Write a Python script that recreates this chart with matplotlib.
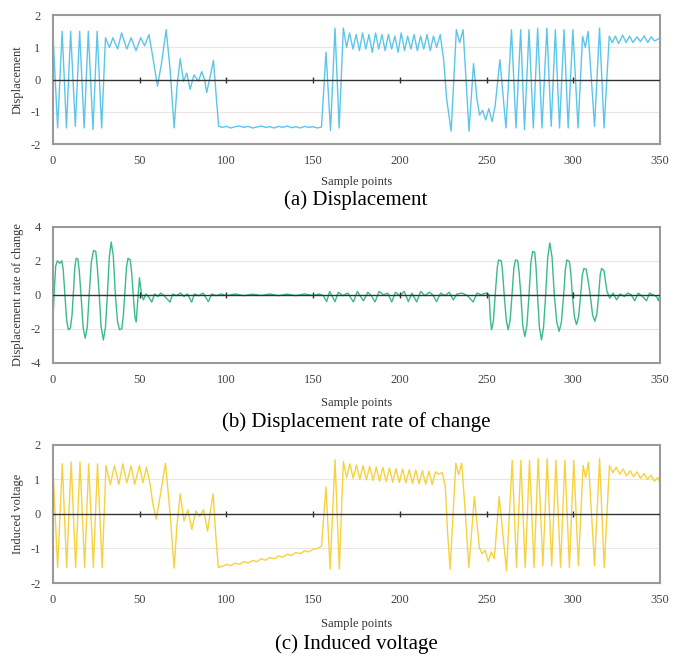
import matplotlib
matplotlib.use('Agg')
import matplotlib.pyplot as plt

plt.rcParams['font.family'] = ['Liberation Serif', 'DejaVu Serif']
plt.rcParams['axes.unicode_minus'] = False

# ---- (a) displacement: vertices (sample, value) ----
disp_x = [0, 2.6, 5.2, 7.7, 10.1, 12.8, 15.3, 17.9, 20.3, 23.0, 25.4, 28.0,
          30.2, 32.5, 34.5, 37.2, 39.5, 42.5, 45.0, 47.8, 50.5, 52.8, 55.3, 57.5,
          60.2, 62.5, 65.2, 67.5, 69.8, 71.5, 73.3, 75.2, 77.1, 79.0, 81.3, 83.8,
          85.7, 87.4, 88.6, 90.6, 92.5, 94.2, 95.5,
          97.5, 100, 102.5, 105, 107.5, 110, 112.5, 115, 117.5, 120, 122.5, 125,
          127.5, 130, 132.5, 135, 137.5, 140, 142.5, 145, 147.5, 150, 152.5, 154.8,
          157.4, 160.0, 162.6, 165.0, 167.4,
          169.3, 171.0, 173.0, 174.8, 176.7, 178.5, 180.4, 182.2, 184.1, 186.0,
          187.8, 189.7, 191.5, 193.4, 195.3, 197.1, 199.0, 200.8, 202.7, 204.5,
          206.4, 208.2, 210.1, 212.0, 213.8, 215.7, 217.5, 219.4, 221.2, 223.3,
          225.3, 227.0, 229.6, 232.6, 234.5, 236.5, 238.2, 239.9, 242.5, 244.5,
          246.0, 247.7, 249.5, 251.3, 253.2, 255.0, 257.7, 261.2,
          264.4, 267.0, 269.7, 271.9, 274.5, 277.0, 279.5, 282.0, 284.8, 287.3,
          289.7, 292.1, 294.7, 297.1, 299.8, 302.8, 305.4, 307.0, 308.6, 312.3,
          315.2, 317.8,
          320.8, 322.5, 324.3, 326.2, 328.5, 330.5, 332.5, 334.5, 336.8, 338.8,
          341.0, 343.0, 345.0, 347.0, 349.5]
disp_y = [1.3, -1.5, 1.5, -1.5, 1.5, -1.45, 1.5, -1.5, 1.5, -1.55, 1.5, -1.5,
          1.3, 1.0, 1.3, 0.95, 1.45, 0.95, 1.3, 0.9, 1.3, 1.05, 1.4, 0.7,
          -0.2, 0.5, 1.55, 0.3, -1.5, -0.2, 0.65, -0.05, 0.2, -0.3, 0.15, -0.05,
          0.25, 0.0, -0.4, 0.1, 0.6, -0.6, -1.45,
          -1.48, -1.45, -1.5, -1.46, -1.44, -1.48, -1.45, -1.5, -1.47, -1.44, -1.48, -1.46,
          -1.5, -1.45, -1.48, -1.44, -1.49, -1.46, -1.5, -1.45, -1.48, -1.46, -1.5, -1.47,
          0.85, -1.58, 1.6, -1.5, 1.6,
          1.0, 1.45, 0.95, 1.4, 0.9, 1.45, 0.95, 1.4, 0.85, 1.45,
          0.95, 1.4, 0.9, 1.4, 0.95, 1.35, 0.85, 1.45, 0.9, 1.35,
          0.95, 1.4, 0.9, 1.35, 0.95, 1.4, 0.9, 1.35, 1.0, 1.4,
          0.6, -0.6, -1.6, 1.55, 1.15, 1.55, 0.0, -1.6, 0.5, -0.6,
          -1.1, -0.95, -1.25, -0.9, -1.3, -0.8, 0.62, -1.5,
          1.55, -1.5, 1.55, -1.55, 1.55, -1.5, 1.6, -1.5, 1.6, -1.45,
          1.55, -1.5, 1.55, -1.5, 1.55, -1.5, 1.35, 1.0, 1.5, -1.45,
          1.6, -1.5,
          1.35, 1.15, 1.35, 1.12, 1.38, 1.15, 1.35, 1.15, 1.33, 1.18,
          1.36, 1.15, 1.33, 1.2, 1.28]

# ---- (b) displacement rate of change ----
rate_x = [0, 0.7, 1.5, 2.5, 3.8, 5.0, 5.8, 6.8, 7.8, 8.8, 10.0, 10.9, 11.8,
          12.5, 13.3, 14.3, 15.1, 16.2, 17.3, 18.5, 19.7, 20.8, 22.0, 23.3,
          24.6, 25.5, 26.6, 27.7, 29.0, 30.2, 31.3, 32.4, 33.5, 34.7, 35.9,
          37.2, 38.3, 39.6, 40.5, 41.3, 42.3, 43.2, 44.5, 45.3, 46.2, 47.2,
          47.9, 48.7, 49.8, 51.0,
          52.1, 53.5, 55.0, 56.9, 58.5,
          60.5, 62.0, 64.0, 67.4, 69.0, 71.0, 73.5, 75.5, 77.5, 79.9, 81.5,
          84.0, 86.5, 89.5, 91.5, 94.0, 97.0, 100, 105, 110, 115, 120, 125,
          130, 135, 140, 145, 150, 153.5, 155.9, 157.8, 159.5, 161.0, 162.6,
          164.5, 167.0, 170.0, 173.2, 175.5, 177.0, 179.0, 181.5, 183.5, 185.7,
          188.0, 190.5, 193.0, 195.3, 197.5, 200.0, 202.5, 204.9, 207.0, 209.7,
          212.0, 214.5, 217.0, 219.0, 221.2, 223.5, 226.0, 228.5, 230.8, 233.0,
          236.0, 239.0, 242.3, 244.5, 247.0, 249.5, 251.5,
          252.2, 252.9, 253.9, 255.0, 256.2, 257.0, 258.5, 259.2, 260.2, 261.4,
          262.5, 263.6, 264.7, 265.8, 266.7, 268.0, 268.8, 269.8, 270.9, 272.1,
          273.3, 274.5, 275.6, 276.6, 277.8, 278.5, 279.4, 280.5, 281.7, 282.9,
          284.1, 285.3, 286.5, 287.8, 289.1, 290.5, 291.9, 293.2, 294.5, 295.5,
          296.3, 297.8, 298.6, 299.5, 300.7, 301.9, 303.1, 304.3, 305.3, 306.2,
          307.5, 308.5, 309.8, 311.2, 312.5, 313.7, 314.7, 315.6, 316.4, 317.8,
          318.6, 319.5, 321.1,
          323.0, 325.0, 327.0, 329.5, 331.5, 333.5, 335.5, 337.5, 340.0,
          342.3, 344.0, 346.0, 348.0, 349.2, 350.0]
rate_y = [-1.2, 0.3, 1.7, 2.0, 1.85, 2.0, 1.5, 0.0, -1.5, -2.05, -1.95, -1.2, 0.3,
          1.6, 2.15, 2.1, 1.4, -0.2, -1.9, -2.55, -1.9, 0.0, 1.9, 2.6,
          2.55, 1.6, 0.0, -1.9, -2.65, -1.9, 0.0, 2.2, 3.1, 2.3, 0.0,
          -1.6, -2.05, -2.0, -1.2, 0.0, 1.6, 2.15, 2.05, 1.3, 0.0, -1.3,
          -1.6, -0.5, 1.0, 0.0,
          -0.3, 0.05, -0.1, -0.43, 0.05,
          -0.1, 0.1, -0.05, -0.43, 0.05, -0.05, 0.1, -0.1, 0.05, -0.43, 0.05,
          -0.05, 0.1, -0.4, 0.05, -0.05, 0.05, -0.05, 0.05, -0.05, 0.04, -0.04, 0.05,
          -0.05, 0.04, -0.05, 0.05, -0.04, 0.05, -0.05, -0.4, 0.2, -0.1, -0.4,
          0.15, -0.05, 0.1, -0.42, 0.2, -0.05, -0.35, 0.15, -0.05, -0.42,
          0.2, 0.0, 0.1, -0.42, 0.15, -0.05, 0.2, -0.4, 0.1, -0.42,
          0.2, -0.05, 0.15, 0.0, -0.4, 0.1, -0.05, 0.15, -0.3, 0.05,
          0.1, -0.05, -0.42, 0.1, 0.0, 0.1, 0.0,
          -1.4, -2.05, -1.6, 0.0, 1.6, 2.05, 2.0, 1.4, 0.0, -1.5,
          -2.05, -1.5, 0.0, 1.6, 2.05, 2.0, 1.3, 0.0, -1.8, -2.45,
          -1.8, 0.0, 1.9, 2.55, 2.5, 1.7, 0.0, -1.9, -2.65, -1.9,
          0.0, 2.2, 3.05, 2.2, 0.0, -1.6, -2.15, -1.6, 0.0, 1.5,
          2.05, 1.95, 1.3, 0.0, -1.3, -1.75, -1.3, 0.0, 1.2, 1.55,
          1.5, 0.9, 0.0, -1.2, -1.55, -1.1, 0.0, 1.2, 1.55, 1.4,
          0.8, 0.2, -0.2,
          0.1, -0.3, 0.05, -0.1, 0.1, 0.0, -0.35, 0.1, -0.1,
          -0.35, 0.1, 0.0, -0.1, -0.35, 0.0]

# ---- (c) induced voltage ----
volt_x = [0, 2.6, 5.3, 7.8, 10.4, 13.0, 15.5, 18.2, 20.5, 23.2, 25.6, 28.3,
          30.5, 33.0, 35.4, 37.9, 40.2, 42.5, 45.0, 47.0, 49.8, 51.8, 53.8, 55.8,
          57.5, 59.5, 62.0, 64.8, 67.5, 69.8, 71.5, 73.3, 75.5, 77.7, 80.0, 82.3,
          84.5, 86.8, 89.1, 90.8, 92.3, 93.8, 95.3,
          97.5, 100, 102.5, 105, 107.5, 110, 112.5, 115, 117.5, 120, 122.5, 125,
          127.5, 130, 132.5, 135, 137.5, 140, 142.5, 145, 147.5, 150, 152.5, 154.8,
          157.4, 159.8, 162.6, 165.1, 167.4,
          169.3, 171.2, 173.1, 175.0, 176.9, 178.8, 180.7, 182.6, 184.5, 186.4,
          188.3, 190.2, 192.1, 194.0, 195.9, 197.8, 199.7, 201.6, 203.5, 205.4,
          207.3, 209.2, 211.1, 213.0, 214.9, 216.8, 218.7, 220.6, 222.5, 224.5,
          226.2, 227.5, 229.0, 232.3, 233.9, 235.7, 237.8, 239.8, 243.0, 245.9,
          247.5, 249.2, 251.0, 252.8, 254.5, 257.3, 261.5,
          264.8, 267.3, 269.8, 272.3, 274.8, 277.4, 279.8, 282.5, 285.0, 287.6,
          290.0, 292.7, 295.2, 297.8, 300.3, 303.0, 305.7, 307.2, 308.8, 312.3,
          315.2, 317.9,
          320.9, 322.8, 324.8, 326.8, 328.8, 330.8, 332.8, 334.8, 336.8, 338.8,
          340.8, 342.8, 344.8, 346.8, 348.8, 350.0]
volt_y = [1.2, -1.55, 1.45, -1.55, 1.5, -1.55, 1.5, -1.55, 1.45, -1.55, 1.45, -1.55,
          1.4, 0.85, 1.4, 0.85, 1.45, 0.9, 1.4, 0.85, 1.4, 0.9, 1.35, 0.9,
          0.3, -0.15, 0.6, 1.47, 0.0, -1.57, -0.3, 0.58, -0.2, 0.12, -0.45, 0.08,
          -0.07, 0.12, -0.5, 0.1, 0.58, -0.6, -1.55,
          -1.52, -1.46, -1.5, -1.42, -1.46, -1.38, -1.42, -1.35, -1.38, -1.3, -1.34, -1.26,
          -1.3, -1.22, -1.25, -1.17, -1.2, -1.12, -1.15, -1.07, -1.1, -1.02, -1.0, -0.93,
          0.78, -1.6, 1.57, -1.6, 1.52,
          1.05, 1.45, 1.03, 1.42, 1.0, 1.4, 0.99, 1.38, 0.97, 1.36,
          0.95, 1.35, 0.94, 1.33, 0.92, 1.31, 0.91, 1.3, 0.9, 1.28,
          0.88, 1.27, 0.87, 1.25, 0.86, 1.24, 0.85, 1.22, 1.15, 1.2,
          0.8, -0.5, -1.6, 1.47, 1.13, 1.47, 0.0, -1.56, 0.5, -0.98,
          -1.15, -1.05, -1.37, -1.1, -1.3, 0.5, -1.65,
          1.55, -1.55, 1.55, -1.55, 1.55, -1.55, 1.6, -1.5, 1.6, -1.5,
          1.55, -1.55, 1.55, -1.55, 1.55, -1.5, 1.4, 1.05, 1.5, -1.5,
          1.6, -1.55,
          1.4, 1.2, 1.35, 1.15, 1.3, 1.1, 1.25, 1.08, 1.22, 1.03,
          1.17, 1.0, 1.12, 0.95, 1.05, 0.92]

x_ticks = [0, 50, 100, 150, 200, 250, 300, 350]
axis_marks = [50, 100, 150, 200, 250, 300]

panels = [
    (disp_x, disp_y, '#5cc6ea', 'Displacement', [-2, -1, 0, 1, 2], 2,
     '(a) Displacement', [0.078, 0.782, 0.891, 0.195], 0.697),
    (rate_x, rate_y, '#3bba8b', 'Displacement rate of change', [-4, -2, 0, 2, 4], 4,
     '(b) Displacement rate of change', [0.078, 0.451, 0.891, 0.206], 0.362),
    (volt_x, volt_y, '#f6d23e', 'Induced voltage', [-2, -1, 0, 1, 2], 2,
     '(c) Induced voltage', [0.078, 0.118, 0.891, 0.209], 0.026),
]

fig = plt.figure(figsize=(6.81, 6.61), dpi=100)

for xs, ys, col, ylab, yt, lim, cap, rect, cap_y in panels:
    ax = fig.add_axes(rect)
    for g in yt:
        if g != 0 and abs(g) != lim:
            ax.axhline(g, color='#eee4e4', lw=0.8, zorder=0)
    ax.plot(xs, ys, color=col, lw=1.0, zorder=2)
    ax.axhline(0, color='#333333', lw=1.0, zorder=3)
    ax.plot(axis_marks, [0] * len(axis_marks), '|', color='#333333', ms=4, zorder=3)
    ax.set_xlim(0, 350)
    ax.set_ylim(-lim, lim)
    ax.set_xticks(x_ticks)
    ax.set_yticks(yt)
    ax.tick_params(length=0, labelsize=9, colors='#444444')
    ax.tick_params(axis='x', pad=8)
    ax.tick_params(axis='y', pad=9)
    for s in ax.spines.values():
        s.set_color('#9a9a9a')
        s.set_linewidth(1.5)
    ax.set_ylabel(ylab, fontsize=9, color='#333333')
    ax.yaxis.set_label_coords(-0.048, 0.5)
    ax.set_xlabel('Sample points', fontsize=9, color='#333333')
    ax.xaxis.set_label_coords(0.5, -0.25)
    fig.text(0.523, cap_y, cap, fontsize=15, ha='center', va='center')

fig.savefig('out.png', dpi=100)
